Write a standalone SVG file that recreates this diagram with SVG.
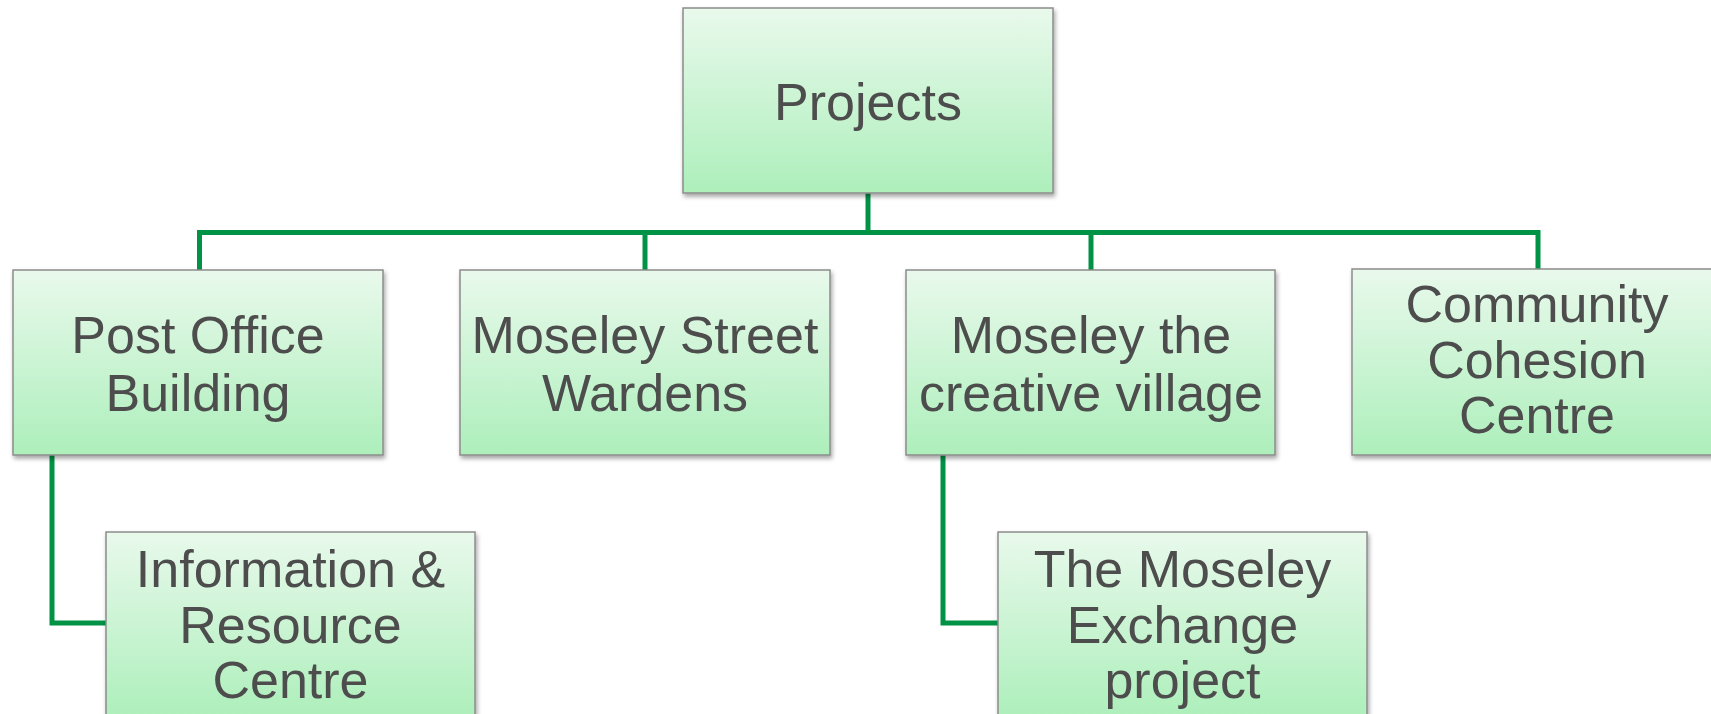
<svg xmlns="http://www.w3.org/2000/svg" width="1711" height="714" viewBox="0 0 1711 714">
<style>
.box{fill:url(#g);stroke:#8c8c8c;stroke-width:1.5;filter:url(#sh)}
.t{font-family:"Liberation Sans",Arial,sans-serif;font-size:52px;fill:#4d4d4d;text-anchor:middle}
.c{fill:none;stroke:#009245;stroke-width:5;stroke-linejoin:miter}
</style>
<defs>
<linearGradient id="g" x1="0" y1="0" x2="0" y2="1">
<stop offset="0" stop-color="#e9f9ec"/>
<stop offset="1" stop-color="#adefbb"/>
</linearGradient>
<filter id="sh" x="-5%" y="-5%" width="115%" height="120%">
<feDropShadow dx="1.5" dy="3" stdDeviation="2" flood-color="#000" flood-opacity="0.35"/>
</filter>
</defs>
<rect width="1711" height="714" fill="#fff"/>
<g id="connectors">
<path class="c" d="M868 193V232.5"/>
<path class="c" d="M199.5 270V232.5H1538V270"/>
<path class="c" d="M645 232.5V270"/>
<path class="c" d="M1091 232.5V270"/>
<path class="c" d="M52 455V623H106"/>
<path class="c" d="M943 455V623H998"/>
</g>
<g id="projects">
<rect class="box" x="683" y="8" width="370" height="185"/>
<text class="t" x="868" y="120">Projects</text>
</g>
<g id="post-office">
<rect class="box" x="13" y="270" width="370" height="185"/>
<text class="t" x="198" y="353">Post Office</text>
<text class="t" x="198" y="411">Building</text>
</g>
<g id="street-wardens">
<rect class="box" x="460" y="270" width="370" height="185"/>
<text class="t" x="645" y="353">Moseley Street</text>
<text class="t" x="645" y="411">Wardens</text>
</g>
<g id="creative-village">
<rect class="box" x="906" y="270" width="369" height="185"/>
<text class="t" x="1091" y="353">Moseley the</text>
<text class="t" x="1091" y="411">creative village</text>
</g>
<g id="community-cohesion">
<rect class="box" x="1352" y="269" width="370" height="186"/>
<text class="t" x="1537" y="322">Community</text>
<text class="t" x="1537" y="378">Cohesion</text>
<text class="t" x="1537" y="433">Centre</text>
</g>
<g id="information-resource">
<rect class="box" x="106" y="532" width="369" height="185"/>
<text class="t" x="290.5" y="587">Information &amp;</text>
<text class="t" x="290.5" y="643">Resource</text>
<text class="t" x="290.5" y="698">Centre</text>
</g>
<g id="moseley-exchange">
<rect class="box" x="998" y="532" width="369" height="185"/>
<text class="t" x="1182.5" y="587">The Moseley</text>
<text class="t" x="1182.5" y="643">Exchange</text>
<text class="t" x="1182.5" y="698">project</text>
</g>
</svg>
